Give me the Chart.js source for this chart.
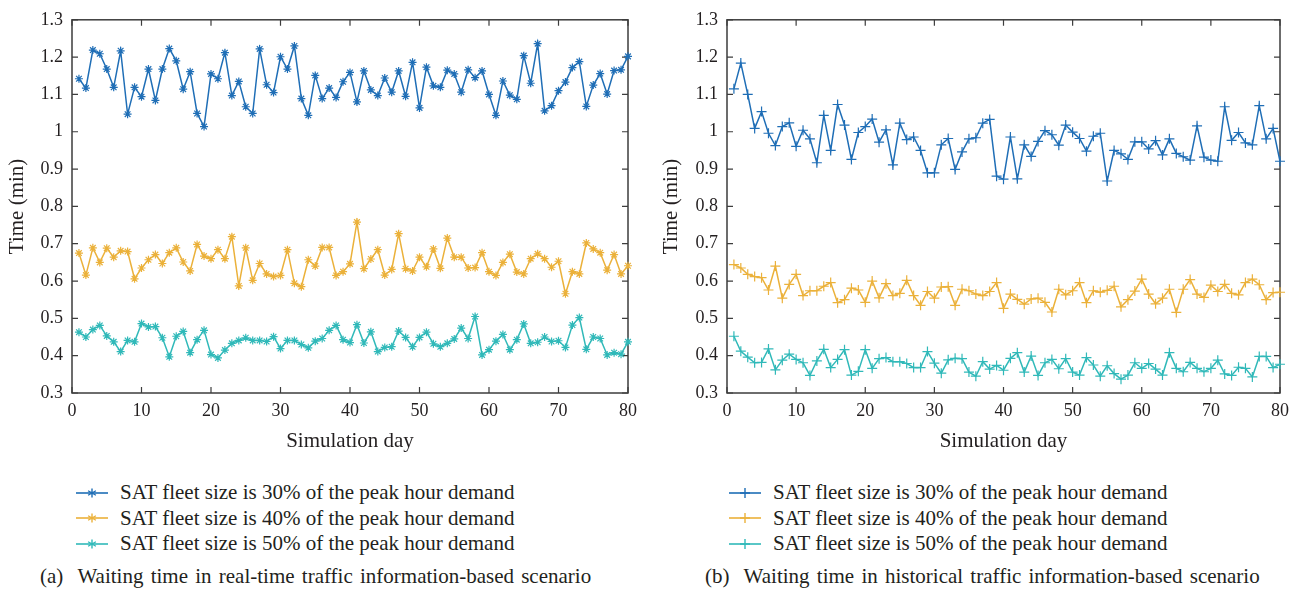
<!DOCTYPE html>
<html>
<head>
<meta charset="utf-8">
<script src="https://cdn.jsdelivr.net/npm/chart.js@4/dist/chart.umd.min.js"></script>
<style>
  body { margin: 0; background: #fff; width: 1301px; height: 596px; position: relative; overflow: hidden;
         font-family: "Liberation Serif", serif; color: #231f20; }
  .box { position: absolute; top: 0; height: 455px; }
  .legend { position: absolute; top: 480px; font-size: 21px; line-height: 25.5px; }
  .legend div { display: flex; align-items: center; white-space: nowrap; }
  .legend svg { margin-right: 12px; }
  .caption { position: absolute; top: 564px; font-size: 21px; word-spacing: 2px; white-space: nowrap; }
</style>
</head>
<body>
<div class="box" style="left:0;width:650px"><canvas id="chartA"></canvas></div>
<div class="box" style="left:650px;width:651px"><canvas id="chartB"></canvas></div>
<div class="legend" id="legendA" style="left:76px"></div>
<div class="legend" id="legendB" style="left:729px"></div>
<div class="caption" style="left:40px">(a)&nbsp; Waiting time in real-time traffic information-based scenario</div>
<div class="caption" style="left:705px">(b)&nbsp; Waiting time in historical traffic information-based scenario</div>
<script>
// simulation days 1..80
var days = [1,2,3,4,5,6,7,8,9,10,11,12,13,14,15,16,17,18,19,20,
            21,22,23,24,25,26,27,28,29,30,31,32,33,34,35,36,37,38,39,40,
            41,42,43,44,45,46,47,48,49,50,51,52,53,54,55,56,57,58,59,60,
            61,62,63,64,65,66,67,68,69,70,71,72,73,74,75,76,77,78,79,80];
var xTicks = [0, 10, 20, 30, 40, 50, 60, 70, 80];
var yTicks = [0.3, 0.4, 0.5, 0.6, 0.7, 0.8, 0.9, 1.0, 1.1, 1.2, 1.3];

var seriesNames = [
  'SAT fleet size is 30% of the peak hour demand',
  'SAT fleet size is 40% of the peak hour demand',
  'SAT fleet size is 50% of the peak hour demand'
];
var colors = ['#1f6eb6', '#ebb13a', '#30b9b9'];

// (a) real-time traffic information
var realTime30 = [1.142,1.117,1.219,1.209,1.168,1.119,1.217,1.047,1.119,1.094,
                  1.168,1.084,1.168,1.223,1.190,1.114,1.161,1.049,1.014,1.155,
                  1.142,1.212,1.097,1.135,1.067,1.049,1.222,1.126,1.105,1.201,
                  1.168,1.230,1.089,1.044,1.151,1.089,1.117,1.092,1.134,1.159,
                  1.080,1.163,1.112,1.097,1.144,1.106,1.163,1.095,1.186,1.064,
                  1.173,1.123,1.119,1.165,1.155,1.106,1.166,1.145,1.163,1.100,
                  1.044,1.136,1.098,1.087,1.204,1.130,1.236,1.056,1.070,1.110,
                  1.133,1.172,1.188,1.068,1.125,1.156,1.101,1.164,1.166,1.202];
var realTime40 = [0.675,0.616,0.689,0.650,0.688,0.664,0.681,0.679,0.606,0.635,
                  0.657,0.671,0.647,0.676,0.689,0.651,0.627,0.698,0.667,0.660,
                  0.684,0.660,0.719,0.587,0.689,0.602,0.647,0.619,0.612,0.615,
                  0.684,0.594,0.585,0.657,0.640,0.690,0.690,0.615,0.625,0.646,
                  0.758,0.633,0.659,0.684,0.616,0.631,0.727,0.633,0.627,0.664,
                  0.638,0.686,0.634,0.715,0.664,0.664,0.635,0.636,0.676,0.625,
                  0.615,0.650,0.672,0.624,0.619,0.660,0.673,0.660,0.637,0.653,
                  0.566,0.625,0.619,0.702,0.686,0.676,0.629,0.671,0.619,0.641];
var realTime50 = [0.463,0.450,0.470,0.481,0.453,0.437,0.411,0.441,0.437,0.486,
                  0.477,0.478,0.448,0.397,0.452,0.465,0.408,0.443,0.468,0.403,
                  0.394,0.415,0.433,0.441,0.448,0.441,0.441,0.438,0.451,0.419,
                  0.441,0.441,0.430,0.421,0.439,0.446,0.468,0.481,0.443,0.435,
                  0.483,0.434,0.464,0.411,0.422,0.424,0.466,0.449,0.424,0.449,
                  0.463,0.432,0.424,0.433,0.445,0.474,0.446,0.505,0.402,0.416,
                  0.439,0.457,0.416,0.443,0.485,0.433,0.436,0.450,0.438,0.440,
                  0.422,0.482,0.502,0.417,0.450,0.446,0.402,0.408,0.404,0.437];

// (b) historical traffic information
var historical30 = [1.115,1.184,1.100,1.009,1.054,0.996,0.963,1.014,1.024,0.961,
                    1.004,0.981,0.917,1.044,0.950,1.073,1.018,0.926,0.998,1.014,
                    1.034,0.972,1.005,0.911,1.023,0.979,0.986,0.950,0.890,0.890,
                    0.965,0.982,0.899,0.946,0.981,0.984,1.023,1.033,0.881,0.873,
                    0.986,0.874,0.965,0.934,0.974,1.003,0.992,0.964,1.018,0.999,
                    0.982,0.948,0.988,0.996,0.868,0.950,0.941,0.926,0.973,0.973,
                    0.954,0.976,0.938,0.981,0.942,0.933,0.924,1.016,0.932,0.924,
                    0.921,1.067,0.977,0.998,0.970,0.965,1.070,0.981,1.009,0.921];
var historical40 = [0.644,0.635,0.618,0.612,0.609,0.576,0.640,0.554,0.591,0.618,
                    0.561,0.574,0.574,0.586,0.596,0.542,0.550,0.581,0.576,0.543,
                    0.600,0.555,0.593,0.561,0.567,0.602,0.561,0.535,0.572,0.554,
                    0.584,0.585,0.535,0.578,0.574,0.565,0.561,0.572,0.596,0.527,
                    0.565,0.551,0.538,0.552,0.554,0.543,0.517,0.578,0.563,0.574,
                    0.596,0.542,0.574,0.570,0.575,0.586,0.531,0.550,0.573,0.605,
                    0.565,0.539,0.554,0.578,0.516,0.578,0.604,0.565,0.556,0.589,
                    0.572,0.591,0.567,0.563,0.596,0.605,0.590,0.550,0.569,0.570];
var historical50 = [0.452,0.412,0.396,0.381,0.382,0.418,0.362,0.388,0.404,0.390,
                    0.381,0.347,0.386,0.417,0.368,0.390,0.416,0.348,0.358,0.416,
                    0.366,0.392,0.395,0.384,0.384,0.379,0.368,0.368,0.411,0.380,
                    0.353,0.389,0.393,0.392,0.356,0.345,0.384,0.364,0.374,0.361,
                    0.393,0.408,0.356,0.399,0.347,0.381,0.390,0.365,0.392,0.356,
                    0.348,0.395,0.375,0.345,0.373,0.352,0.337,0.348,0.381,0.366,
                    0.379,0.364,0.348,0.408,0.366,0.357,0.382,0.366,0.357,0.366,
                    0.388,0.351,0.347,0.369,0.366,0.343,0.398,0.398,0.368,0.377];

var axisColor = '#3d3d3d';
var textColor = '#231f20';
var fontFamily = '"Liberation Serif", serif';

// box around the plot with inward ticks on all four sides
var framePlugin = {
  id: 'frame',
  beforeDatasetsDraw: function(chart) {
    var ctx = chart.ctx, a = chart.chartArea, x = chart.scales.x, y = chart.scales.y;
    ctx.save();
    ctx.strokeStyle = axisColor;
    ctx.lineWidth = 1.5;
    ctx.strokeRect(a.left, a.top, a.right - a.left, a.bottom - a.top);
    ctx.lineWidth = 1.2;
    ctx.beginPath();
    xTicks.forEach(function(v) {
      var px = x.getPixelForValue(v);
      ctx.moveTo(px, a.bottom); ctx.lineTo(px, a.bottom - 6);
      ctx.moveTo(px, a.top); ctx.lineTo(px, a.top + 6);
    });
    yTicks.forEach(function(v) {
      var py = y.getPixelForValue(v);
      ctx.moveTo(a.left, py); ctx.lineTo(a.left + 6, py);
      ctx.moveTo(a.right, py); ctx.lineTo(a.right - 6, py);
    });
    ctx.stroke();
    ctx.restore();
  }
};

function makeChart(id, series, marker, yWidth, padTop, padRight, yTitlePad) {
  var datasets = series.map(function(vals, i) {
    return {
      label: seriesNames[i],
      data: days.map(function(d, k) { return {x: d, y: vals[k]}; }),
      borderColor: colors[i],
      backgroundColor: colors[i],
      borderWidth: 1.5,
      pointStyle: marker,
      pointRadius: marker === 'star' ? 4 : 5,
      pointBorderWidth: 1.2,
      pointBorderColor: colors[i],
      tension: 0,
      clip: false
    };
  });
  return new Chart(document.getElementById(id).getContext('2d'), {
    type: 'line',
    data: { datasets: datasets },
    plugins: [framePlugin],
    options: {
      responsive: true,
      maintainAspectRatio: false,
      animation: false,
      layout: { padding: { top: padTop, right: padRight, left: 0, bottom: 0 } },
      plugins: { legend: { display: false }, tooltip: { enabled: false } },
      scales: {
        x: {
          type: 'linear', min: 0, max: 80,
          afterBuildTicks: function(s) { s.ticks = xTicks.map(function(v) { return {value: v}; }); },
          afterFit: function(s) { s.height = 62; },
          grid: { display: false, drawTicks: false },
          border: { display: false },
          ticks: { color: textColor, padding: 7, font: { family: fontFamily, size: 18 } },
          title: { display: true, text: 'Simulation day', color: textColor,
                   padding: { top: 0, bottom: 1 }, font: { family: fontFamily, size: 21 } }
        },
        y: {
          min: 0.3, max: 1.3,
          afterBuildTicks: function(s) { s.ticks = yTicks.map(function(v) { return {value: v}; }); },
          afterFit: function(s) { s.width = yWidth; },
          grid: { display: false, drawTicks: false },
          border: { display: false },
          ticks: { color: textColor, padding: 9, font: { family: fontFamily, size: 18 },
                   callback: function(v) { return String(Number(v.toFixed(1))); } },
          title: { display: true, text: 'Time (min)', color: textColor,
                   padding: { top: yTitlePad, bottom: 0 }, font: { family: fontFamily, size: 21 } }
        }
      }
    }
  });
}

makeChart('chartA', [realTime30, realTime40, realTime50], 'star', 72, 15, 22, 5);
makeChart('chartB', [historical30, historical40, historical50], 'cross', 77, 17, 21, 9);

// legends below each plot
function markerSvg(color, marker) {
  var m = marker === 'star'
    ? '<path d="M16 3.5V12.5M12.1 5.75L19.9 10.25M12.1 10.25L19.9 5.75" stroke="' + color + '" stroke-width="1.4"/>'
    : '<path d="M16 3V13M11 8H21" stroke="' + color + '" stroke-width="1.4"/>';
  return '<svg width="32" height="16"><line x1="0" y1="8" x2="32" y2="8" stroke="' + color +
         '" stroke-width="1.6"/>' + m + '</svg>';
}
function buildLegend(id, marker) {
  var el = document.getElementById(id);
  seriesNames.forEach(function(name, i) {
    var row = document.createElement('div');
    row.innerHTML = markerSvg(colors[i], marker) + '<span>' + name + '</span>';
    el.appendChild(row);
  });
}
buildLegend('legendA', 'star');
buildLegend('legendB', 'cross');
</script>
</body>
</html>
